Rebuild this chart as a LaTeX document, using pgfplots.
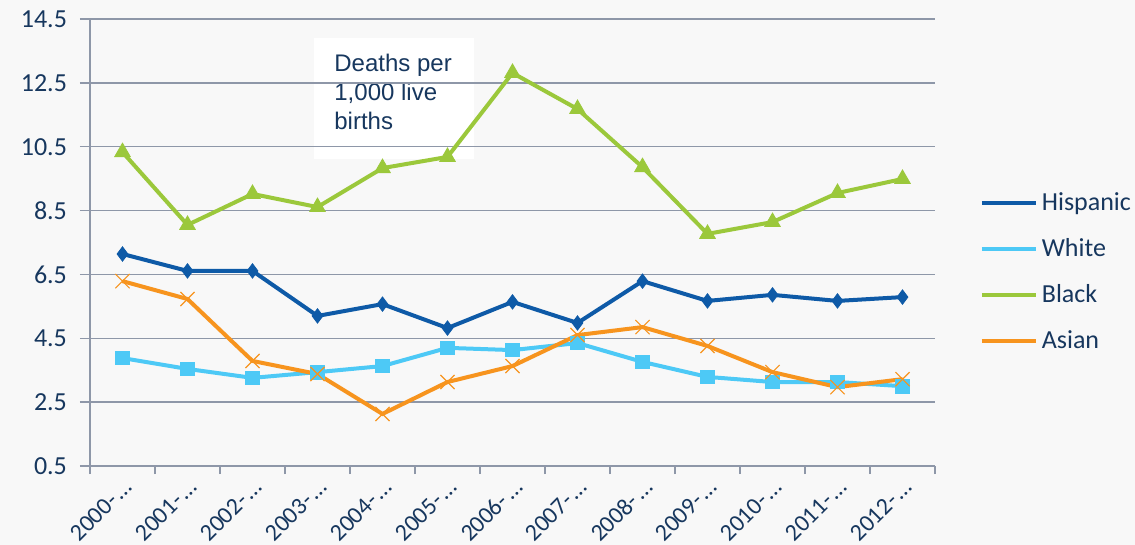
\documentclass[border=0pt]{standalone}
\usepackage{fontspec}
\setmainfont{Carlito}
\newfontfamily\arialfont{Liberation Sans}
\usepackage{pgfplots}
\pgfplotsset{compat=1.18}
\definecolor{bg}{HTML}{F8F8F8}
\definecolor{txt}{HTML}{17375E}
\definecolor{gridc}{HTML}{8E97A8}
\definecolor{hisp}{HTML}{0E5AA7}
\definecolor{whi}{HTML}{4DC9F6}
\definecolor{blk}{HTML}{9BC83B}
\definecolor{asi}{HTML}{F7941E}
\newcommand{\el}{\hspace{0.15em}…}
\begin{document}
\begin{tikzpicture}[x=1pt,y=1pt]
\path[use as bounding box, fill=bg] (-45,-39.5) rectangle (522.5,233);
\fill[white] (112,153.5) rectangle (192,214);
\node[anchor=north west, align=left, font=\arialfont\fontsize{12}{14.5}\selectfont, text=txt, inner sep=0pt] at (122,206) {Deaths per\\1,000 live\\births};
\begin{axis}[
  at={(0,0)}, anchor=south west,
  scale only axis, width=422.5pt, height=223.5pt,
  xmin=-0.5, xmax=12.5, ymin=0.5, ymax=14.5,
  axis x line*=bottom, axis y line*=left,
  axis line style={draw=gridc, line width=0.75pt, -},
  ytick={0.5,2.5,4.5,6.5,8.5,10.5,12.5,14.5},
  yticklabels={0.5,2.5,4.5,6.5,8.5,10.5,12.5,14.5},
  ymajorgrids=true,
  grid style={draw=gridc, line width=0.75pt},
  xtick={0,1,2,3,4,5,6,7,8,9,10,11,12},
  xticklabels={2000-\el,2001-\el,2002-\el,2003-\el,2004-\el,2005-\el,2006-\el,2007-\el,2008-\el,2009-\el,2010-\el,2011-\el,2012-\el},
  minor xtick={-0.5,0.5,1.5,2.5,3.5,4.5,5.5,6.5,7.5,8.5,9.5,10.5,11.5,12.5},
  tick align=outside,
  major x tick style={draw=none},
  minor x tick style={draw=gridc, line width=0.75pt},
  major y tick style={draw=gridc, line width=0.75pt},
  minor tick length=4pt, major tick length=5pt,
  ticklabel style={font=\fontsize{13}{15}\selectfont, text=txt},
  xticklabel style={font=\fontsize{12}{14}\selectfont, rotate=45, anchor=north east, xshift=3pt, yshift=3pt},
  yticklabel style={xshift=-3pt},
  legend style={at={(rel axis cs:1.0455,0.63)}, anchor=north west, draw=none, fill=none,
    font=\fontsize{13}{15}\selectfont, text=txt, row sep=8.5pt},
  legend cell align=left,
  legend image code/.code={\draw[mark repeat=2,mark phase=2] (0pt,0pt) -- (13.5pt,0pt) -- (27pt,0pt);},
]
\addplot[hisp, line width=2pt, mark=diamond*, mark size=3.6pt, mark options={line width=0.4pt}] coordinates {
(0,7.14) (1,6.61) (2,6.61) (3,5.20) (4,5.57) (5,4.82) (6,5.64) (7,4.98) (8,6.29) (9,5.67) (10,5.86) (11,5.67) (12,5.79)};
\addlegendentry{Hispanic}
\addplot[whi, line width=2pt, mark=square*, mark size=3.4pt, mark options={line width=0.4pt}] coordinates {
(0,3.88) (1,3.54) (2,3.26) (3,3.44) (4,3.63) (5,4.20) (6,4.13) (7,4.35) (8,3.76) (9,3.29) (10,3.13) (11,3.13) (12,3.00)};
\addlegendentry{White}
\addplot[blk, line width=2pt, mark=triangle*, mark size=4.5pt, mark options={line width=0.4pt}] coordinates {
(0,10.33) (1,8.05) (2,9.02) (3,8.61) (4,9.83) (5,10.18) (6,12.81) (7,11.68) (8,9.86) (9,7.77) (10,8.14) (11,9.05) (12,9.49)};
\addlegendentry{Black}
\addplot[asi, line width=2pt, mark=x, mark size=5pt, mark options={line width=0.6pt}] coordinates {
(0,6.29) (1,5.73) (2,3.79) (3,3.38) (4,2.13) (5,3.13) (6,3.63) (7,4.60) (8,4.85) (9,4.26) (10,3.44) (11,2.97) (12,3.22)};
\addlegendentry{Asian}
\end{axis}
\end{tikzpicture}
\end{document}
